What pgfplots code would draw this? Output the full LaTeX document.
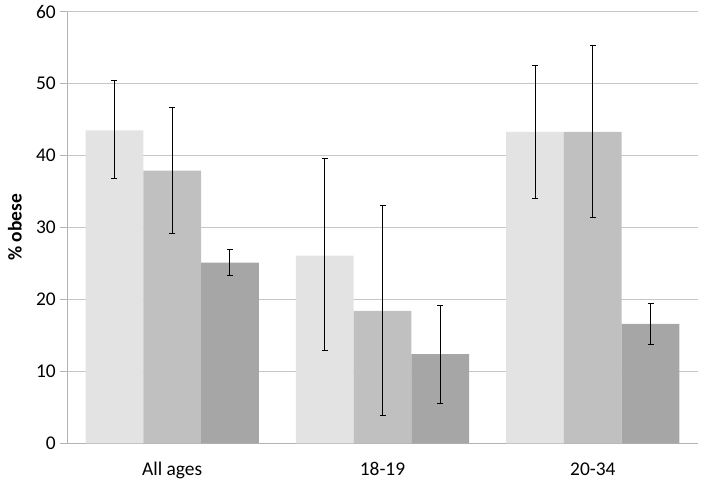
\documentclass[border=0pt]{standalone}
\usepackage{pgfplots}
\pgfplotsset{compat=1.18}
\usepackage{fontspec}
\setmainfont{Carlito}
\definecolor{cA}{HTML}{E3E3E3}
\definecolor{cB}{HTML}{C0C0C0}
\definecolor{cC}{HTML}{A6A6A6}
\definecolor{gridc}{HTML}{C6C6C6}
\definecolor{axc}{HTML}{B4B4B4}
\begin{document}
\begin{tikzpicture}
\useasboundingbox (0,0) rectangle (704bp,485bp);
\begin{axis}[
  at={(67bp,41.7bp)}, anchor=south west,
  scale only axis, width=631bp, height=431.6bp,
  xmin=-0.5, xmax=2.5, ymin=0, ymax=60,
  ytick distance=10,
  xtick={0,1,2}, xticklabels={All ages,18-19,20-34},
  axis x line*=bottom, axis y line*=left,
  axis line style={axc, line width=1bp, -},
  ymajorgrids, grid style={gridc, line width=1bp},
  x tick style={draw=none},
  y tick style={axc, line width=1bp},
  tick align=outside, major tick length=7bp,
  /pgf/number format/assume math mode=true,
  font=\fontsize{19.5}{22}\selectfont,
  yticklabel style={anchor=east, inner sep=0pt, xshift=-4bp},
  xticklabel style={anchor=base, inner sep=0pt, yshift=-25bp},
  ylabel={\bfseries \% obese},
  every axis y label/.style={at={(axis description cs:-0.0824,0.5)}, rotate=90, anchor=center},
  error bars/y dir=both, error bars/y explicit,
  error bars/error bar style={black, line width=1bp},
  error bars/error mark options={black, rotate=90, mark size=3bp, line width=1bp},
]
% series 1 (bars left of each category centre: x = category - 0.2745)
\addplot[ybar, bar width=0.2745, bar shift=0, fill=cA, draw=none]
  coordinates {(-0.2745,43.5) += (0,6.9) -= (0,6.7)
               (0.7255,26.1) += (0,13.5) -= (0,13.2)
               (1.7255,43.3) += (0,9.2) -= (0,9.3)};
% series 2 (centre)
\addplot[ybar, bar width=0.2745, bar shift=0, fill=cB, draw=none]
  coordinates {(0,37.9) += (0,8.8) -= (0,8.8)
               (1,18.4) += (0,14.7) -= (0,14.6)
               (2,43.3) += (0,12.0) -= (0,11.9)};
% series 3 (right: x = category + 0.2745)
\addplot[ybar, bar width=0.2745, bar shift=0, fill=cC, draw=none]
  coordinates {(0.2745,25.1) += (0,1.8) -= (0,1.8)
               (1.2745,12.4) += (0,6.8) -= (0,6.8)
               (2.2745,16.6) += (0,2.8) -= (0,2.9)};
\end{axis}
\end{tikzpicture}
\end{document}
